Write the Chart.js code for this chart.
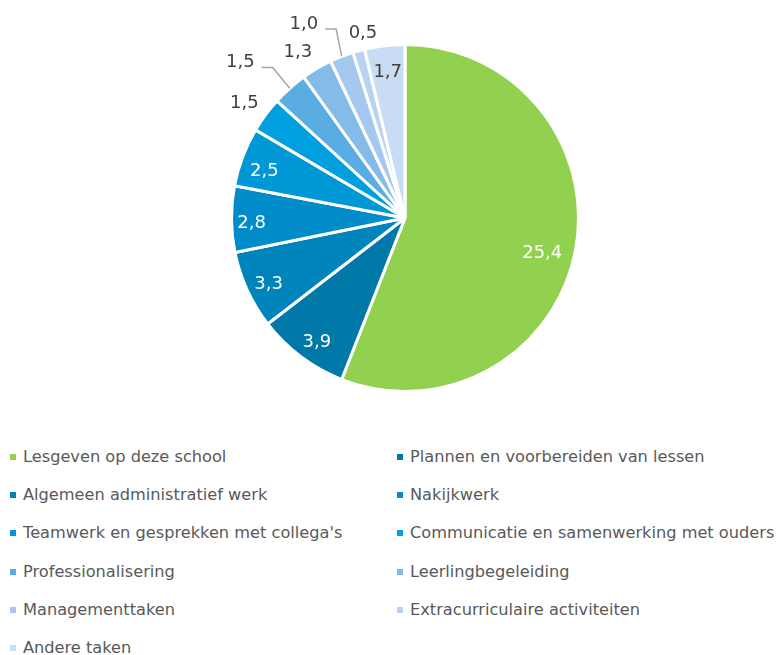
<!DOCTYPE html>
<html>
<head>
<meta charset="utf-8">
<script src="https://cdn.jsdelivr.net/npm/chart.js@4"></script>
<style>
  html, body { margin: 0; padding: 0; background: #fff; width: 777px; height: 655px; overflow: hidden; }
  #wrap { position: absolute; left: 0; top: 0; width: 777px; height: 430px; }
  #legend { position: absolute; left: 0; top: 438px; width: 777px; font-family: "DejaVu Sans", Verdana, sans-serif; font-size: 16.2px; color: #595959; }
  .item { position: absolute; height: 20px; line-height: 20px; white-space: nowrap; }
  .sw { position: absolute; left: 0; top: 7px; width: 6px; height: 6px; }
  .tx { position: absolute; left: 13px; top: 0; }
</style>
</head>
<body>
<div id="wrap"><canvas id="c" width="777" height="430"></canvas></div>
<div id="legend"></div>
<script>
const categories = [
  "Lesgeven op deze school",
  "Plannen en voorbereiden van lessen",
  "Algemeen administratief werk",
  "Nakijkwerk",
  "Teamwerk en gesprekken met collega's",
  "Communicatie en samenwerking met ouders",
  "Professionalisering",
  "Leerlingbegeleiding",
  "Managementtaken",
  "Extracurriculaire activiteiten",
  "Andere taken"
];
const hours = [25.4, 3.9, 3.3, 2.8, 2.5, 1.5, 1.5, 1.3, 1.0, 0.5, 1.7];
const valueLabels = ["25,4", "3,9", "3,3", "2,8", "2,5", "1,5", "1,5", "1,3", "1,0", "0,5", "1,7"];
const sliceColors = ["#92D050", "#0078A8", "#0084BC", "#008CC8", "#0097D6", "#009FDF", "#5AADE3", "#85BBE8", "#A4C8EE", "#B8D4F2", "#C8DDF4"];

// label placement: radius factor, angle shift (deg), colour, optional leader
const labelStyle = [
  {f: 0.815, s: 3.2, c: "#fff"},
  {f: 0.873, s: -1.3, c: "#fff"},
  {f: 0.871, s: -0.9, c: "#fff"},
  {f: 0.884, s: -1.1, c: "#fff"},
  {f: 0.855, s: -2.0, c: "#fff"},
  {f: 1.14, s: -0.8, c: "#404040"},
  {f: 1.0, s: 0, c: "#404040", leader: {elbow: 1.155, s: 0.3, len: 11}},
  {f: 1.14, s: -2.3, c: "#404040"},
  {f: 1.0, s: 0, c: "#404040", leader: {elbow: 1.16, s: 1.4, len: 11}},
  {f: 1.097, s: 2.7, c: "#404040"},
  {f: 0.85, s: 0, c: "#404040"}
];

const D = Math.PI / 180;
const labelPlugin = {
  id: 'sliceLabels',
  afterDatasetsDraw(chart) {
    const ctx = chart.ctx;
    const meta = chart.getDatasetMeta(0);
    ctx.save();
    ctx.font = '18px "DejaVu Sans", Verdana, sans-serif';
    meta.data.forEach((arc, i) => {
      const p = arc.getProps(['x', 'y', 'startAngle', 'endAngle', 'outerRadius'], true);
      const mid = (p.startAngle + p.endAngle) / 2;
      const st = labelStyle[i];
      ctx.fillStyle = st.c;
      if (st.leader) {
        const ex = p.x + p.outerRadius * Math.cos(mid);
        const ey = p.y + p.outerRadius * Math.sin(mid);
        const a = mid + st.leader.s * D;
        const bx = p.x + p.outerRadius * st.leader.elbow * Math.cos(a);
        const by = p.y + p.outerRadius * st.leader.elbow * Math.sin(a);
        const lx = bx - st.leader.len;
        ctx.strokeStyle = "#A6A6A6";
        ctx.lineWidth = 1.5;
        ctx.beginPath();
        ctx.moveTo(ex, ey);
        ctx.lineTo(bx, by);
        ctx.lineTo(lx, by);
        ctx.stroke();
        ctx.textAlign = 'right';
        ctx.textBaseline = 'middle';
        ctx.fillText(valueLabels[i], lx - 7, by - 5);
      } else {
        const r = p.outerRadius * st.f;
        const a = mid + st.s * D;
        ctx.textAlign = 'center';
        ctx.textBaseline = 'middle';
        ctx.fillText(valueLabels[i], p.x + r * Math.cos(a), p.y + r * Math.sin(a) + 1);
      }
    });
    ctx.restore();
  }
};

new Chart(document.getElementById('c'), {
  type: 'pie',
  data: {
    labels: categories,
    datasets: [{
      data: hours,
      backgroundColor: sliceColors,
      borderColor: '#ffffff',
      borderWidth: 3
    }]
  },
  options: {
    responsive: false,
    devicePixelRatio: 1,
    animation: false,
    layout: { padding: { left: 230, right: 197, top: 43, bottom: 37 } },
    plugins: { legend: { display: false }, tooltip: { enabled: false } }
  },
  plugins: [labelPlugin]
});

// HTML legend in two columns
const legend = document.getElementById('legend');
categories.forEach((name, i) => {
  const col = i % 2, row = Math.floor(i / 2);
  const d = document.createElement('div');
  d.className = 'item';
  d.style.left = (col === 0 ? 10 : 397) + 'px';
  d.style.top = (row * 38.2 + 9) + 'px';
  const s = document.createElement('span');
  s.className = 'sw';
  s.style.background = sliceColors[i];
  const t = document.createElement('span');
  t.className = 'tx';
  t.textContent = name;
  d.appendChild(s); d.appendChild(t);
  legend.appendChild(d);
});
</script>
</body>
</html>
